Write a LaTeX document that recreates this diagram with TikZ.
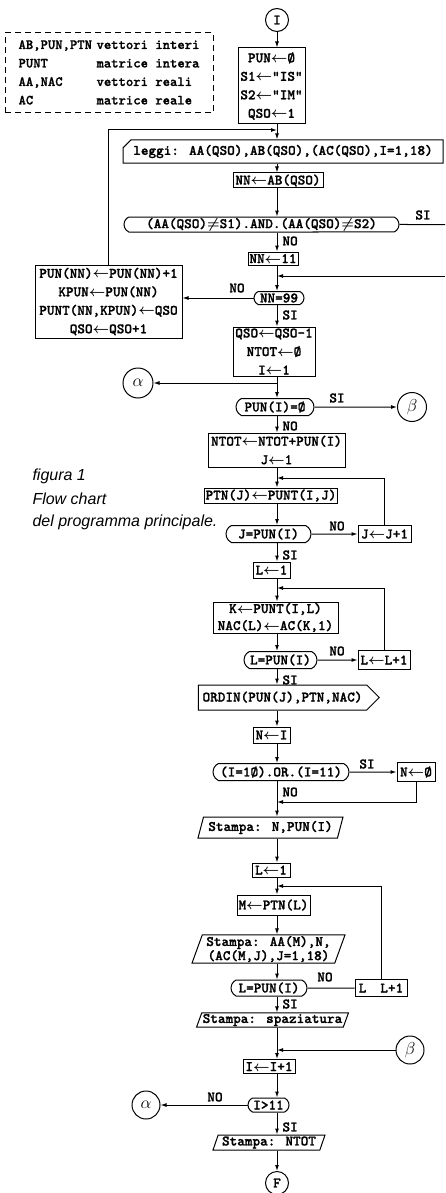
\documentclass[tikz,border=0pt]{standalone}
\usepackage{amsmath,amssymb}
\usepackage{fontspec}
\usepackage{tikz}
\newfontfamily\capfont{Liberation Sans}
\newfontfamily\twfont{lmmonolt10-bold.otf}[FakeBold=1.2]
\usetikzlibrary{arrows.meta, positioning, shapes.geometric, shapes.misc, shapes.symbols}

\newcommand{\tw}{\fontsize{14.5}{18.5}\selectfont\twfont}
\newcommand{\la}{$\boldsymbol{\leftarrow}$}
\newcommand{\nq}{$\boldsymbol{\neq}$}

\tikzset{
  box/.style={draw, rectangle, inner sep=1pt, align=center, font=\tw},
  test/.style={draw, rounded rectangle, rounded rectangle arc length=130, inner sep=1pt, font=\tw},
  io/.style={draw, trapezium, trapezium left angle=70, trapezium right angle=110,
    trapezium stretches body=true, inner sep=1pt, align=center, font=\tw},
  card/.style={draw, chamfered rectangle, chamfered rectangle corners=north west,
    chamfered rectangle xsep=4pt, chamfered rectangle ysep=4pt, inner sep=1pt, font=\tw},
  subr/.style={draw, signal, signal to=east, signal pointer angle=90, inner sep=1pt, font=\tw},
  conn/.style={draw, circle, inner sep=0pt, font=\tw},
  lbl/.style={font=\tw, inner sep=0pt},
  flow/.style={-{Latex[length=6pt,width=4pt]}},
}

\begin{document}
\begin{tikzpicture}[x=1pt, y=-1pt, line width=1pt]
  \useasboundingbox (0,0) rectangle (445,1193);
  \coordinate (m) at (277,0);

  % legend of the variables
  \node[draw, dashed, dash pattern=on 6pt off 4pt, minimum width=208, minimum height=80,
    inner sep=2pt, font=\fontsize{14}{18.5}\selectfont\twfont] (legend) at (109,73)
    {\begin{tabular}{@{}p{78pt}@{}l@{}}
      AB,PUN,PTN & vettori interi\\
      PUNT & matrice intera\\
      AA,NAC & vettori reali\\
      AC & matrice reale
    \end{tabular}};

  % caption
  \node[anchor=west, inner sep=0pt, font=\fontsize{16}{18}\selectfont\capfont\itshape] (cap1) at (32,476) {figura 1};
  \node[anchor=west, inner sep=0pt, font=\fontsize{16}{18}\selectfont\capfont\itshape] (cap2) at (32,499) {Flow chart};
  \node[anchor=west, inner sep=0pt, font=\fontsize{16}{18}\selectfont\capfont\itshape] (cap3) at (32,522) {del programma principale.};

  % reading the data
  \node[conn, minimum size=23] (ci) at (277,20) {I};
  \node[box, minimum width=67, minimum height=76] (init) at (271.5,86)
    {PUN\la Ø\\S1\la"IS"\\S2\la"IM"\\QSO\la 1};
  \node[card, minimum width=320, minimum height=17] (leggi) at (283,151.5)
    {leggi: AA(QSO),AB(QSO),(AC(QSO),I=1,18)};
  \node[box, minimum width=90, minimum height=15] (nnab) at (278,180.5) {NN\la AB(QSO)};
  \node[test, minimum width=277, minimum height=15] (andt) at (261.5,224.5)
    {(AA(QSO)\nq S1).AND.(AA(QSO)\nq S2)};
  \node[box, minimum width=50, minimum height=13] (nn11) at (273,258.5) {NN\la 11};
  \node[test, minimum width=52, minimum height=13] (nn99) at (279,298) {NN=99};
  \node[box, minimum width=147, minimum height=73] (pun) at (108.5,301.5)
    {PUN(NN)\la PUN(NN)+1\\KPUN\la PUN(NN)\\PUNT(NN,KPUN)\la QSO\\QSO\la QSO+1};
  \node[box, minimum width=82, minimum height=49] (qso) at (274,351.5)
    {QSO\la QSO-1\\NTOT\la Ø\\I\la 1};

  % loop on I
  \node[conn, minimum size=30, font=\LARGE] (alpha1) at (138,383) {$\alpha$};
  \node[test, minimum width=80, minimum height=17] (punI) at (275,407) {PUN(I)=Ø};
  \node[conn, minimum size=29, font=\LARGE] (beta1) at (412,407) {$\beta$};
  \node[box, minimum width=137, minimum height=34] (ntot) at (276.5,450)
    {NTOT\la NTOT+PUN(I)\\J\la 1};
  \node[box, minimum width=128, minimum height=15] (ptn) at (271,495.5) {PTN(J)\la PUNT(I,J)};
  \node[test, minimum width=87, minimum height=17] (testJ) at (268.5,534) {J=PUN(I)};
  \node[box, minimum width=53, minimum height=17] (jinc) at (384.5,534) {J\la J+1};
  \node[box, minimum width=37, minimum height=16] (l1) at (271.5,570) {L\la 1};
  \node[box, minimum width=125, minimum height=31, font=\fontsize{14.5}{17}\selectfont\twfont]
    (kpunt) at (275.5,617.5) {K\la PUNT(I,L)\\NAC(L)\la AC(K,1)};
  \node[test, minimum width=75, minimum height=17] (testL) at (280.5,660) {L=PUN(I)};
  \node[box, minimum width=52, minimum height=19] (linc) at (384,660) {L\la L+1};
  \node[subr, minimum width=181, minimum height=25] (ordin) at (282.5,697.5) {ORDIN(PUN(J),PTN,NAC)};
  \node[box, minimum width=37, minimum height=16] (ni) at (271.5,735) {N\la I};
  \node[test, minimum width=138, minimum height=17] (ort) at (281,772) {(I=1Ø).OR.(I=11)};
  \node[box, minimum width=38, minimum height=19] (nz) at (416,772) {N\la Ø};
  \node[io, minimum width=145, minimum height=21] (st1) at (270.5,827.5) {Stampa: N,PUN(I)};

  % printing the group
  \node[box, minimum width=38, minimum height=14] (l1b) at (271,870) {L\la 1};
  \node[box, minimum width=73, minimum height=20] (mptn) at (273.5,905) {M\la PTN(L)};
  \node[io, minimum width=153, minimum height=28, font=\fontsize{14.5}{12.5}\selectfont\twfont]
    (st2) at (268.5,949) {Stampa: AA(M),N,\\(AC(M,J),J=1,18)};
  \node[test, minimum width=78, minimum height=16] (testL2) at (269,988) {L=PUN(I)};
  \node[box, minimum width=52, minimum height=17] (linc2) at (381,988) {L\hspace{14pt}L+1};
  \node[io, minimum width=151, minimum height=14] (spaz) at (272.5,1020) {Stampa: spaziatura};
  \node[conn, minimum size=28, font=\LARGE] (beta2) at (410,1050) {$\beta$};
  \node[box, minimum width=52, minimum height=14] (iinc) at (269,1066.5) {I\la I+1};
  \node[test, minimum width=43, minimum height=14] (igt) at (268.5,1105) {I>11};
  \node[conn, minimum size=28, font=\LARGE] (alpha2) at (146,1105) {$\alpha$};
  \node[io, minimum width=112, minimum height=15] (stn) at (269,1142.5) {Stampa: NTOT};
  \node[conn, minimum size=23] (cf) at (277,1183) {F};

  % branch labels
  \node[lbl] (siA) at (423,215) {SI};
  \node[lbl, anchor=west] (noA) at (282,241) {NO};
  \node[lbl] (noB) at (237,288) {NO};
  \node[lbl, anchor=west] (siB) at (282,315) {SI};
  \node[lbl] (siC) at (337,398) {SI};
  \node[lbl, anchor=west] (noC) at (282,426) {NO};
  \node[lbl] (noD) at (337,526) {NO};
  \node[lbl, anchor=west] (siD) at (282,555) {SI};
  \node[lbl] (noE) at (337,651) {NO};
  \node[lbl, anchor=west] (siE) at (282,680) {SI};
  \node[lbl] (siF) at (367,764) {SI};
  \node[lbl, anchor=west] (noF) at (282,792) {NO};
  \node[lbl] (noG) at (325,977) {NO};
  \node[lbl, anchor=west] (siG) at (282,1004) {SI};
  \node[lbl] (noH) at (215,1097) {NO};
  \node[lbl, anchor=west] (siH) at (282,1127) {SI};

  % joins on the main line
  \coordinate (jA) at (277,130);
  \coordinate (outA) at (445,224.5);
  \coordinate (inB) at (445,276);
  \coordinate (jB) at (277,276);
  \coordinate (jC) at (277,383);
  \coordinate (jD) at (277,478);
  \coordinate (jE) at (277,588);
  \coordinate (jF) at (277,802);
  \coordinate (jG) at (277,886);
  \coordinate (jH) at (277,1050);

  % main line
  \draw[flow] (ci.south -| m) -- (init.north -| m);
  \draw[flow] (init.south -| m) -- (leggi.north -| m);
  \draw[flow] (leggi.south -| m) -- (nnab.north -| m);
  \draw[flow] (nnab.south -| m) -- (andt.north -| m);
  \draw[flow] (andt.south -| m) -- (nn11.north -| m);
  \draw[flow] (nn11.south -| m) -- (nn99.north -| m);
  \draw[flow] (nn99.south -| m) -- (qso.north -| m);
  \draw[flow] (qso.south -| m) -- (punI.north -| m);
  \draw[flow] (punI.south -| m) -- (ntot.north -| m);
  \draw[flow] (ntot.south -| m) -- (ptn.north -| m);
  \draw[flow] (ptn.south -| m) -- (testJ.north -| m);
  \draw[flow] (testJ.south -| m) -- (l1.north -| m);
  \draw[flow] (l1.south -| m) -- (kpunt.north -| m);
  \draw[flow] (kpunt.south -| m) -- (testL.north -| m);
  \draw[flow] (testL.south -| m) -- (ordin.north -| m);
  \draw[flow] (ordin.south -| m) -- (ni.north -| m);
  \draw[flow] (ni.south -| m) -- (ort.north -| m);
  \draw[flow] (ort.south -| m) -- (st1.north -| m);
  \draw[flow] (st1.south -| m) -- (l1b.north -| m);
  \draw[flow] (l1b.south -| m) -- (mptn.north -| m);
  \draw[flow] (mptn.south -| m) -- (st2.north -| m);
  \draw[flow] (st2.south -| m) -- (testL2.north -| m);
  \draw[flow] (testL2.south -| m) -- (spaz.north -| m);
  \draw[flow] (spaz.south -| m) -- (iinc.north -| m);
  \draw[flow] (iinc.south -| m) -- (igt.north -| m);
  \draw[flow] (igt.south -| m) -- (stn.north -| m);
  \draw[flow] (stn.south -| m) -- (cf.north -| m);

  % side branches and loops
  \draw[flow] (pun.north) |- (jA);
  \draw (andt) -- (outA);
  \draw[flow] (inB) -- (jB);
  \draw[flow] (nn99) -- (nn99 -| pun.east);
  \draw[flow] (jC) -- (alpha1);
  \draw[flow] (punI) -- (beta1);
  \draw[flow] (testJ) -- (jinc);
  \draw[flow] (jinc.north) |- (jD);
  \draw[flow] (testL) -- (linc);
  \draw[flow] (linc.north) |- (jE);
  \draw[flow] (ort) -- (nz);
  \draw[flow] (nz.south) |- (jF);
  \draw (testL2) -- (linc2);
  \draw[flow] (linc2.north) |- (jG);
  \draw[flow] (beta2) -- (jH);
  \draw[flow] (igt) -- (alpha2);
\end{tikzpicture}
\end{document}
